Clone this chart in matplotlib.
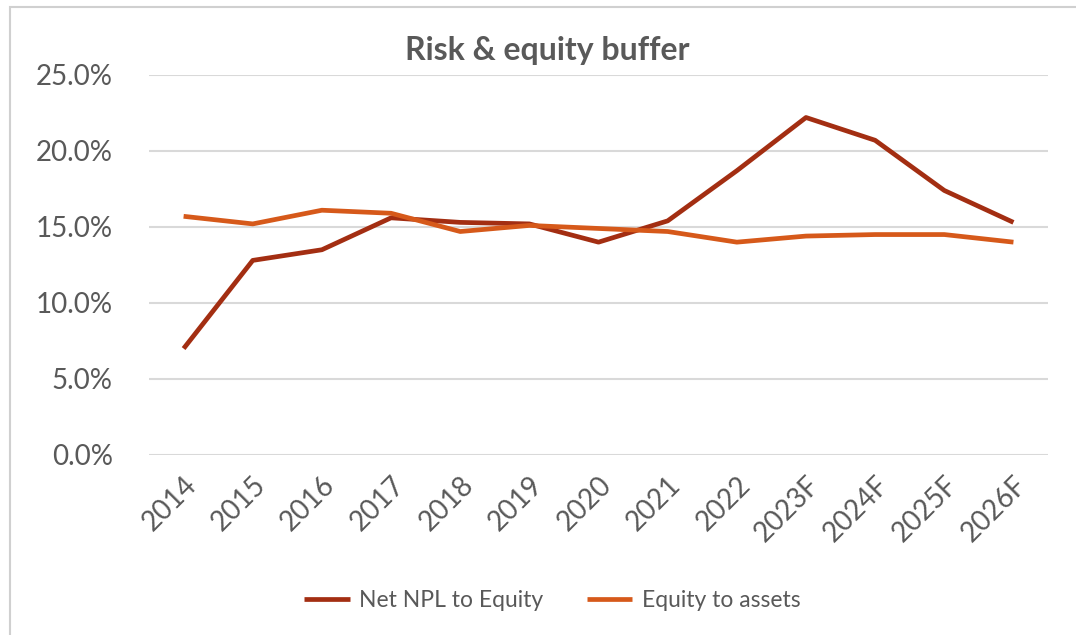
import matplotlib.pyplot as plt
from matplotlib.patches import Rectangle
from matplotlib.ticker import FuncFormatter

# data (in %)
anos = ['2014', '2015', '2016', '2017', '2018', '2019', '2020', '2021',
        '2022', '2023F', '2024F', '2025F', '2026F']
npl_equity = [7.0, 12.8, 13.5, 15.6, 15.3, 15.2, 14.0, 15.4, 18.7, 22.2, 20.7, 17.4, 15.3]
equity_assets = [15.7, 15.2, 16.1, 15.9, 14.7, 15.1, 14.9, 14.7, 14.0, 14.4, 14.5, 14.5, 14.0]

COR_TEXTO = '#595959'
plt.rcParams['font.family'] = ['Lato', 'DejaVu Sans']

fig = plt.figure(figsize=(10.76, 6.35), dpi=100)
ax = fig.add_axes([0.1385, 0.2835, 0.8355, 0.5985])

x = range(len(anos))
ax.plot(x, npl_equity, color='#A32E12', lw=3.4, label='Net NPL to Equity', solid_capstyle='butt')
ax.plot(x, equity_assets, color='#D6591A', lw=3.4, label='Equity to assets', solid_capstyle='butt')

ax.set_xlim(-0.5, len(anos) - 0.5)
ax.set_ylim(0, 25)
ax.set_yticks([0, 5, 10, 15, 20, 25])
ax.yaxis.set_major_formatter(FuncFormatter(lambda v, p: f'{v:.1f}%'))
ax.set_xticks(list(x))
ax.set_xticklabels(anos, rotation=45, ha='right', rotation_mode='anchor')

ax.grid(axis='y', color='#D9D9D9', lw=1.5)
ax.set_axisbelow(True)
for s in ax.spines.values():
    s.set_visible(False)
ax.tick_params(axis='both', length=0, labelsize=20, colors=COR_TEXTO)
ax.tick_params(axis='x', pad=12)
ax.tick_params(axis='y', pad=26)

fig.text(0.509, 0.921, 'Risk & equity buffer', ha='center', va='center',
         fontsize=23, fontweight='bold', color=COR_TEXTO)

fig.legend(loc='center', bbox_to_anchor=(0.513, 0.055), ncol=2, frameon=False,
           fontsize=16.5, labelcolor=COR_TEXTO, handlelength=2.0, columnspacing=1.9,
           handletextpad=0.4)

# moldura do gráfico
fig.patches.append(Rectangle((10 / 1076, -0.1), 1.2, 1 - 7 / 635 + 0.1,
                             transform=fig.transFigure, fill=False,
                             edgecolor='#D0D0D0', lw=1.5))

fig.savefig('out.png', dpi=100)
